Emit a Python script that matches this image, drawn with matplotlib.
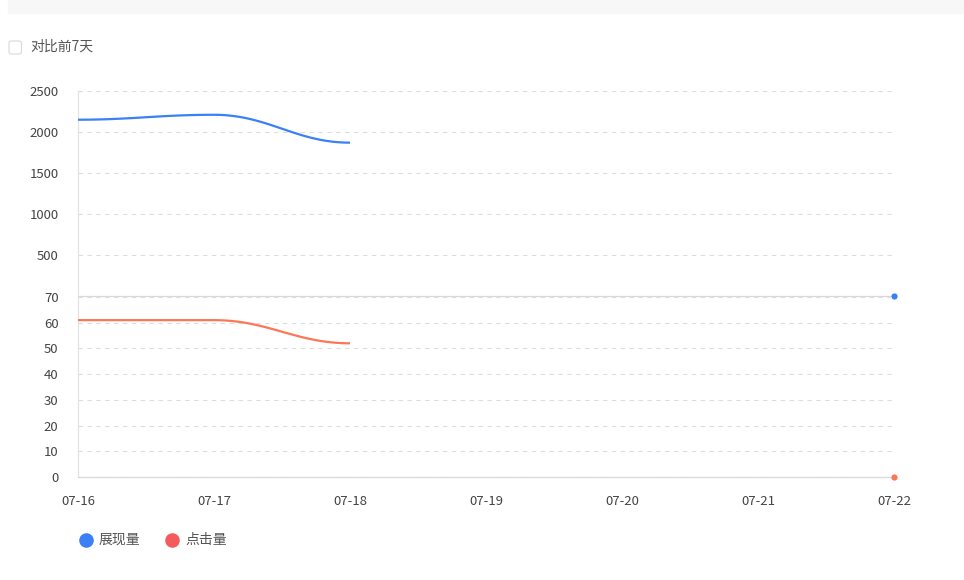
import numpy as np
import matplotlib
matplotlib.use('Agg')
import matplotlib.pyplot as plt
from matplotlib.patches import Rectangle, FancyBboxPatch

plt.rcParams['font.family'] = ['Noto Sans CJK SC', 'DejaVu Sans']

dates = ['07-16', '07-17', '07-18', '07-19', '07-20', '07-21', '07-22']
shows = [2150, 2210, 1870, np.nan, np.nan, np.nan, 0]   # 展现量
clicks = [61, 61, 52, np.nan, np.nan, np.nan, 0]        # 点击量
top_ticks = [500, 1000, 1500, 2000, 2500]
bottom_ticks = [0, 10, 20, 30, 40, 50, 60, 70]

blue = '#3b80f6'
red = '#fb7758'
legend_red = '#f65b5b'
txt = '#444444'
grid = '#dddddd'

W, H = 964, 580
fig = plt.figure(figsize=(W / 100, H / 100), dpi=100)


def box(l, t, r, b):
    return [l / W, 1 - b / H, (r - l) / W, (b - t) / H]


def smooth_xy(x, y, frac=0.4, n=40):
    # bezier segments with flat tangents, like the smooth line in the web chart
    xs, ys = [], []
    for i in range(len(x) - 1):
        x0, x1, y0, y1 = x[i], x[i + 1], y[i], y[i + 1]
        dx = x1 - x0
        t = np.linspace(0, 1, n)
        px = [x0, x0 + dx * frac, x1 - dx * frac, x1]
        py = [y0, y0, y1, y1]
        bx = (1 - t) ** 3 * px[0] + 3 * (1 - t) ** 2 * t * px[1] + 3 * (1 - t) * t ** 2 * px[2] + t ** 3 * px[3]
        by = (1 - t) ** 3 * py[0] + 3 * (1 - t) ** 2 * t * py[1] + 3 * (1 - t) * t ** 2 * py[2] + t ** 3 * py[3]
        xs.extend(bx)
        ys.extend(by)
    return np.array(xs), np.array(ys)


def draw_series(ax, vals, color):
    vals = np.array(vals, dtype=float)
    idx = np.arange(len(vals))
    ok = ~np.isnan(vals)
    # split into continuous runs
    runs, cur = [], []
    for i in idx:
        if ok[i]:
            cur.append(i)
        else:
            if cur:
                runs.append(cur)
            cur = []
    if cur:
        runs.append(cur)
    for r in runs:
        if len(r) > 1:
            sx, sy = smooth_xy(idx[r], vals[r])
            ax.plot(sx, sy, color=color, lw=1.6, solid_capstyle='butt', clip_on=False, zorder=3)
        else:
            ax.plot(idx[r], vals[r], 'o', color=color, ms=4.5, mec='none', clip_on=False, zorder=4)


ax_top = fig.add_axes(box(78, 91, 894, 296))
ax_bot = fig.add_axes(box(78, 297, 894, 477))

for ax in (ax_top, ax_bot):
    ax.set_xlim(0, len(dates) - 1)
    for s in ('top', 'right'):
        ax.spines[s].set_visible(False)
    ax.spines['left'].set_color('#e3e3e3')
    ax.spines['bottom'].set_color('#d9d9d9')
    ax.spines['bottom'].set_linewidth(0.9)
    ax.spines['left'].set_linewidth(0.9)
    ax.tick_params(axis='y', length=0, pad=14, labelsize=9.5, labelcolor=txt)
    ax.grid(axis='y', color=grid, ls=(0, (4, 4)), lw=0.8)
    ax.set_axisbelow(True)
    ax.patch.set_alpha(0)

ax_top.set_ylim(0, 2500)
ax_top.set_yticks(top_ticks)
ax_top.set_xticks([])
ax_bot.set_ylim(0, 70)
ax_bot.set_yticks(bottom_ticks)
ax_bot.set_xticks(range(len(dates)))
ax_bot.set_xticklabels(dates)
ax_bot.tick_params(axis='x', length=0, pad=13, labelsize=9.5, labelcolor=txt)

draw_series(ax_top, shows, blue)
draw_series(ax_bot, clicks, red)

# top grey band
fig.patches.append(Rectangle((8 / W, 1 - 13 / H), (W - 8) / W, 13 / H,
                             transform=fig.transFigure, color='#f7f7f7', zorder=0))
# checkbox
fig.patches.append(FancyBboxPatch((9 / W, 1 - 54 / H), 12.5 / W, 13 / H,
                                  boxstyle='round,pad=0,rounding_size=0.003',
                                  transform=fig.transFigure, fc='white', ec='#d9d9d9', lw=0.8))
fig.text(30 / W, 1 - 47 / H, '对比前7天', fontsize=10, color='#555555', va='center', ha='left')

# legend
for cx, col, label in [(86, blue, '展现量'), (172, legend_red, '点击量')]:
    fig.add_artist(plt.Line2D([cx / W], [1 - 540 / H], marker='o', ms=10.5, color=col, mec='none',
                              transform=fig.transFigure))
    fig.text((cx + 13) / W, 1 - 540 / H, label, fontsize=10, color='#555555', va='center', ha='left')

fig.savefig('out.png', dpi=100)
